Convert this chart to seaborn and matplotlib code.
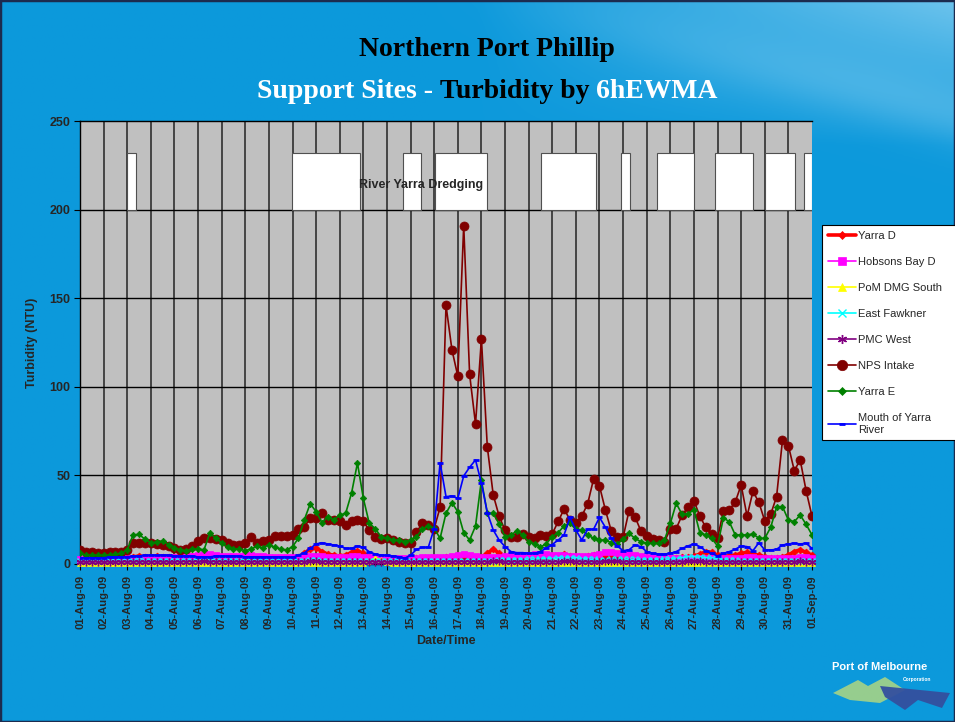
import numpy as np
import pandas as pd
import matplotlib
matplotlib.use('Agg')
import matplotlib.pyplot as plt
import seaborn as sns
from matplotlib.lines import Line2D
from matplotlib.patches import Polygon, Rectangle

# 6-hourly readings, 01-Aug-09 00:00 to 01-Sep-09 00:00 (4 per day)
start_date = '2009-08-01'
n_days = 31

yarra_d = [3, 3, 3.5, 3, 3, 3, 3.5, 3.5, 3.5, 4, 4.5, 4, 4, 4.5, 4, 4,
           4, 4, 4, 4.5, 5, 5, 4.5, 4, 4, 4, 3.5, 3.5, 3.5, 3.5, 3.5, 3.5,
           3.5, 3.5, 3.5, 3.5, 3.5, 4, 6, 8.5, 9, 7, 5.5, 5, 4.5, 5, 6.5, 7.5,
           6, 4, 3.5, 3.5, 3.5, 3, 3, 3, 3, 3.5, 3.5, 3.5, 3.5, 3.5, 4, 3.5,
           3.5, 4, 3.5, 3.5, 4, 6, 8.5, 6, 4, 3.5, 3.5, 3.5, 3.5, 3.5, 3.5, 3.5,
           4, 4.5, 5.5, 4.5, 4, 4, 4.5, 5, 4.5, 4, 4, 3.5, 3.5, 3.5, 3.5, 3.5,
           3.5, 3.5, 3.5, 3.5, 3.5, 3.5, 4, 4, 4.5, 5.5, 7, 6.5, 5, 4.5, 4.5, 5,
           6, 6.5, 5.5, 5, 4, 3.5, 3.5, 4, 5, 7, 8, 6.5, 5]

hobsons_bay_d = [3, 3, 3, 3, 3, 3, 3, 3.5, 3.5, 3.5, 3.5, 3.5, 3.5, 4, 4, 4,
                 4, 4, 4.5, 4.5, 5, 6, 5.5, 5, 4.5, 4.5, 4.5, 4.5, 5, 5, 4.5, 4.5,
                 4, 4, 4, 4, 4, 4, 4.5, 4.5, 4.5, 4.5, 4, 4, 4, 4, 4.5, 4.5,
                 4, 4, 3.5, 3.5, 3.5, 3.5, 3.5, 3.5, 3.5, 3.5, 4, 4, 4, 4, 4, 4.5,
                 5, 5.5, 5, 4.5, 4, 4, 4, 4, 4.5, 5, 5, 5, 5, 5.5, 5.5, 5.5,
                 5, 5, 5, 4.5, 4.5, 4.5, 4.5, 5, 5.5, 6.5, 6.5, 6, 5.5, 5.5, 5, 4.5,
                 4, 4, 3.5, 3.5, 3.5, 3.5, 3.5, 3.5, 3.5, 3.5, 3.5, 3.5, 3.5, 3.5, 3.5, 3.5,
                 3.5, 4, 4, 3.5, 3.5, 3.5, 3.5, 3.5, 3.5, 3.5, 4, 4, 3.5]

pom_dmg_south = [0.5, 0.5, 0.4, 0.5, 0.5, 0.6, 0.5, 0.5, 0.5, 0.5, 0.6, 0.5, 0.5, 0.5, 0.5, 0.4,
                 0.5, 0.5, 0.5, 0.5, 0.6, 0.6, 0.5, 0.5, 0.5, 0.5, 0.5, 0.5, 0.5, 0.4, 0.5, 0.5,
                 0.5, 0.5, 0.5, 0.5, 0.5, 0.5, 0.6, 0.6, 0.6, 0.5, 0.5, 0.5, 0.5, 0.5, 0.6, 0.6,
                 0.5, 1.5, 3.5, 2.5, 1, 0.5, 0.5, 0.5, 0.4, 0.4, 0.4, 0.4, 0.5, 0.5, 0.5, 0.5,
                 0.5, 0.5, 0.6, 0.5, 0.5, 0.5, 0.5, 0.4, 0.4, 0.4, 0.4, 0.4, 0.4, 0.4, 0.4, 0.4,
                 0.4, 0.4, 0.5, 0.5, 0.5, 0.5, 0.5, 0.5, 0.5, 0.5, 0.5, 0.5, 0.4, 0.4, 0.4, 0.4,
                 0.4, 0.4, 0.4, 0.4, 0.5, 0.5, 0.5, 0.5, 0.5, 0.5, 0.5, 0.5, 0.4, 0.4, 0.4, 0.4,
                 0.4, 0.4, 0.4, 0.4, 0.4, 0.4, 0.4, 0.4, 0.5, 0.5, 0.5, 0.5, 0.5]

east_fawkner = [1.5, 1.6, 1.8, 1.6, 1.5, 1.6, 1.7, 1.8, 1.8, 1.9, 2, 1.8, 1.7, 1.8, 1.9, 1.8,
                1.7, 1.7, 1.8, 1.8, 1.9, 2, 2, 1.9, 1.8, 1.8, 1.7, 1.7, 1.7, 1.8, 1.8, 1.7,
                1.6, 1.6, 1.7, 1.7, 1.7, 1.8, 1.9, 2, 2, 1.9, 1.8, 1.8, 1.8, 1.8, 1.9, 1.9,
                1.8, 1.7, 1.7, 1.6, 1.6, 1.5, 1.5, 1.5, 1.5, 1.6, 1.6, 1.7, 1.7, 1.8, 1.8, 1.8,
                1.8, 1.9, 1.9, 1.8, 1.8, 1.8, 1.9, 2, 2.2, 2.4, 2.5, 2.5, 2.6, 2.8, 3, 3,
                3, 3.2, 3.5, 3.5, 3.3, 3, 2.8, 2.6, 2.5, 2.5, 2.6, 2.8, 2.8, 2.7, 2.6, 2.5,
                2.4, 2.4, 2.5, 2.6, 2.8, 3, 3.5, 4, 4, 3.8, 3.5, 3.2, 2.8, 2.5, 2.2, 2,
                1.9, 1.8, 1.8, 1.7, 1.7, 1.7, 1.8, 1.8, 1.8, 1.9, 1.9, 1.8, 1.8]

pmc_west = [1.2, 1.2, 1.3, 1.2, 1.2, 1.2, 1.3, 1.3, 1.3, 1.3, 1.4, 1.3, 1.3, 1.3, 1.3, 1.3,
            1.3, 1.3, 1.4, 1.4, 1.4, 1.5, 1.4, 1.4, 1.3, 1.3, 1.3, 1.3, 1.3, 1.3, 1.3, 1.3,
            1.3, 1.3, 1.3, 1.3, 1.3, 1.4, 1.4, 1.5, 1.5, 1.4, 1.4, 1.4, 1.4, 1.4, 1.4, 1.4,
            1.4, 1.3, 1.3, 1.3, 1.2, 1.2, 1.2, 1.2, 1.2, 1.3, 1.3, 1.3, 1.3, 1.3, 1.3, 1.3,
            1.4, 1.4, 1.4, 1.4, 1.4, 1.4, 1.5, 1.5, 1.4, 1.4, 1.4, 1.4, 1.4, 1.4, 1.4, 1.4,
            1.4, 1.4, 1.5, 1.5, 1.4, 1.4, 1.4, 1.4, 1.4, 1.5, 1.5, 1.5, 1.4, 1.4, 1.4, 1.3,
            1.3, 1.3, 1.3, 1.3, 1.3, 1.4, 1.4, 1.5, 1.5, 1.5, 1.4, 1.4, 1.4, 1.4, 1.3, 1.3,
            1.3, 1.3, 1.3, 1.3, 1.3, 1.3, 1.4, 1.4, 1.4, 1.4, 1.5, 1.4, 1.4]

nps_intake = [8, 7, 7, 6, 6, 6.5, 6.5, 7, 8, 12, 12, 12, 12, 11.5, 11, 10,
              9, 8, 8.5, 10, 13, 14.5, 14.5, 14, 13.5, 12, 11, 11, 12, 15, 12, 13,
              13.5, 16, 16, 16, 16.5, 20, 21, 26, 26, 29, 25, 25, 24, 22, 24, 25,
              24, 19, 15.5, 14, 14.5, 13.5, 12.5, 11.7, 11.7, 18, 23, 22, 20, 32, 146, 121,
              106, 191, 107, 79, 127, 66, 39, 27, 19, 15.4, 15.4, 17, 15.4, 14.5, 16.4, 16,
              17, 24, 31, 25, 23, 27, 34, 48, 44, 30.5, 18.6, 15, 15, 30, 26.7, 18.8,
              15.8, 14, 13.5, 12.6, 19.6, 20, 27.6, 32, 35.7, 27, 20.7, 17, 14.5, 30, 30.5, 35,
              44.6, 27, 41, 34.8, 24.3, 28, 38, 70, 66.8, 52.7, 58.7, 41.4, 27]

yarra_e = [6, 5, 5, 5, 5, 5, 5.5, 6, 8, 16.4, 16.7, 14, 12, 12.3, 13, 11,
           9, 8, 7.5, 8.5, 8.5, 8, 17.5, 14.5, 12, 9.5, 8.5, 8.5, 7.5, 8.5, 10, 9,
           11, 9.4, 8.5, 7.9, 9.8, 14.5, 25, 34, 29.5, 23.3, 26.7, 24.8, 27.6, 28.6, 40, 57,
           37, 23, 20, 15.4, 14.5, 13.5, 13.5, 12.6, 13.5, 15.4, 19.6, 21.5, 20.1, 14.5, 28.6, 34.6,
           29.5, 17.7, 13.5, 21.4, 47.4, 28.6, 28.6, 22.6, 15.4, 16.3, 18.8, 16.3, 12.6, 11.3, 9.5, 11.5,
           15.4, 17.7, 21.5, 22.9, 19.6, 19.2, 16.4, 14.5, 13.5, 13.5, 12, 11.3, 13.9, 17.3, 14.5, 12.6,
           11.7, 11.7, 11.7, 13.5, 22.9, 34.2, 28, 28.4, 30.5, 17.7, 16.4, 14.5, 10.2, 26.2, 23.7, 16.4,
           16.4, 16.4, 17, 14.5, 14.5, 20.7, 32, 32.4, 24.8, 23.9, 27.6, 22.4, 16.4]

mouth_of_yarra = [3.5, 3.5, 3.5, 3.5, 3.5, 4, 4, 4, 4, 4.5, 4.5, 5, 5, 5, 5, 5,
                  4.5, 4.5, 4.5, 4.5, 4, 4, 4, 4.5, 4.5, 4.5, 4.5, 4.5, 4, 4, 4, 4,
                  4, 4, 4, 4, 3.7, 5, 6.3, 8.8, 11.3, 12, 11.3, 10.7, 10.2, 8.8, 8.8, 10.2,
                  9.4, 6.9, 5.6, 5, 5, 4.5, 4.1, 3.2, 5, 8.2, 9.4, 9.4, 20, 57.2, 38, 38.4,
                  37, 49.7, 54.6, 58.7, 45.6, 29, 19.2, 13.5, 9.8, 7, 6.4, 6.4, 6, 6, 7, 9,
                  11, 13.5, 16.4, 26.3, 19.2, 13.5, 19.6, 19.6, 26.3, 20.7, 14.5, 10.2, 7.5, 8, 10.7, 9.8,
                  7, 6, 5.6, 5.6, 6, 7, 8.8, 10.2, 11.4, 9.8, 7.4, 6, 4.5, 6, 7, 8.3,
                  10.2, 9.8, 7.5, 12, 7.9, 7.9, 8.3, 10.7, 11.3, 11.7, 11.3, 11.7, 8.8]

# dredging periods (day offsets from 01-Aug-09)
dredging_start = [2.0, 8.98, 13.68, 15.04, 19.53, 22.92, 24.45, 26.9, 29.0, 30.68]
dredging_end = [2.37, 11.86, 14.45, 17.25, 21.86, 23.3, 26.0, 28.5, 30.3, 31.0]
dredging_low = 200
dredging_high = 232

series = [
    ('Yarra D', yarra_d),
    ('Hobsons Bay D', hobsons_bay_d),
    ('PoM DMG South', pom_dmg_south),
    ('East Fawkner', east_fawkner),
    ('PMC West', pmc_west),
    ('NPS Intake', nps_intake),
    ('Yarra E', yarra_e),
    ('Mouth of Yarra River', mouth_of_yarra),
]

styles = {
    'Yarra D': dict(color='#ff0000', marker='D', markersize=3.5, linewidth=2.6, mew=0.5),
    'Hobsons Bay D': dict(color='#ff00ff', marker='s', markersize=4.5, linewidth=1.2, mew=0.5),
    'PoM DMG South': dict(color='#ffff00', marker='^', markersize=5, linewidth=1.2, mew=0.5),
    'East Fawkner': dict(color='#00ffff', marker='x', markersize=4.5, linewidth=1.2, mew=1.0),
    'PMC West': dict(color='#800080', marker=(6, 2, 0), markersize=5.5, linewidth=1.2, mew=1.0),
    'NPS Intake': dict(color='#800000', marker='o', markersize=6.5, linewidth=1.2, mew=0.5),
    'Yarra E': dict(color='#008000', marker='D', markersize=3.3, linewidth=1.2, mew=0.5),
    'Mouth of Yarra River': dict(color='#0000ff', marker='_', markersize=4, linewidth=1.2, mew=2.0),
}

day_labels = [d.strftime('%d-%b-%y') for d in pd.date_range(start_date, periods=n_days + 1, freq='D')]

rows = []
for name, values in series:
    for i, v in enumerate(values):
        rows.append((name, i / 4.0, v))
df = pd.DataFrame(rows, columns=['site', 'day', 'turbidity'])

sns.set_style('white')
plt.rcParams['font.family'] = ['Liberation Sans', 'DejaVu Sans']

W, H = 955, 722
fig = plt.figure(figsize=(W / 100, H / 100), dpi=100)


def px(x, y):
    return x / W, 1 - y / H


# blue slide background
bg = fig.add_axes([0, 0, 1, 1], zorder=-10)
gx, gy = np.meshgrid(np.linspace(0, 1, 400), np.linspace(1, 0, 300))
base = np.array([0.05, 0.60, 0.86])
light = np.array([0.55, 0.82, 0.95])
w = np.clip((gx - 0.5) * 2.0, 0, 1) * np.clip((gy - 0.80) * 5, 0, 1) * 0.75
w += 0.25 * np.exp(-((gy - (0.98 - 0.35 * (gx - 0.6))) ** 2) / 0.002) * np.clip(gx - 0.45, 0, 1) * 2
w = np.clip(w, 0, 1)
img = base[None, None, :] * (1 - w[..., None]) + light[None, None, :] * w[..., None]
bg.imshow(img, extent=[0, 1, 0, 1], aspect='auto')
bg.axis('off')
fig.add_artist(Rectangle((0, 0), 1, 1, transform=fig.transFigure, fill=False,
                         edgecolor='#1c2b4f', linewidth=2.5))

l, b = px(80, 564)
r, t = px(812, 121)
ax = fig.add_axes([l, b, r - l, t - b])
ax.set_facecolor('#c0c0c0')

for d in range(1, n_days):
    ax.axvline(d, color='#3a3a3a', linewidth=1.3, zorder=1)
for yv in [50, 100, 150, 200]:
    ax.axhline(yv, color='black', linewidth=1.0, zorder=1)

ax.bar(dredging_start, [dredging_high - dredging_low] * len(dredging_start),
       width=np.array(dredging_end) - np.array(dredging_start), bottom=dredging_low,
       align='edge', color='white', edgecolor='#505050', linewidth=0.8, zorder=2)
ax.text(14.45, 214, 'River Yarra Dredging', ha='center', va='center',
        fontsize=9, fontweight='bold', zorder=3)

handles = []
for k, (name, _) in enumerate(series):
    st = styles[name]
    sub = df[df['site'] == name]
    sns.lineplot(data=sub, x='day', y='turbidity', ax=ax, color=st['color'],
                 marker=st['marker'], markersize=st['markersize'], linewidth=st['linewidth'],
                 markeredgecolor=st['color'], markerfacecolor=st['color'], markeredgewidth=st['mew'],
                 legend=False, zorder=4 + k, clip_on=(name in ['NPS Intake', 'Yarra E', 'Mouth of Yarra River']))
    label = 'Mouth of Yarra\nRiver' if name == 'Mouth of Yarra River' else name
    handles.append(Line2D([], [], color=st['color'], marker=st['marker'], markersize=st['markersize'] + 1,
                          linewidth=st['linewidth'], markeredgecolor=st['color'],
                          markeredgewidth=st['mew'], label=label))

ax.set_xlim(0, n_days)
ax.set_ylim(0, 250)
ax.set_yticks([0, 50, 100, 150, 200, 250])
ax.set_xticks(range(n_days + 1))
ax.set_xticklabels(day_labels, rotation=90, fontsize=8, fontweight='bold')
for lab in ax.get_yticklabels():
    lab.set_fontweight('bold')
ax.tick_params(axis='y', labelsize=9, length=4, direction='out', color='black', pad=3, left=True)
ax.tick_params(axis='x', length=4, direction='out', color='black', pad=4, bottom=True)
ax.set_xlabel('Date/Time', fontsize=9, fontweight='bold', labelpad=4)
ax.set_ylabel('Turbidity (NTU)', fontsize=9, fontweight='bold', labelpad=8)
for s in ax.spines.values():
    s.set_color('black')
    s.set_linewidth(1.0)
ax.spines['right'].set_visible(False)

lx, ly = px(822, 437)
leg = fig.legend(handles=handles, loc='upper left', bbox_to_anchor=(lx, ly, 1 - lx + 0.002, 212 / H),
                 mode='expand', frameon=True, fancybox=False, edgecolor='black', framealpha=1,
                 fontsize=8, labelspacing=1.45, handlelength=2.6, handletextpad=0.15,
                 borderpad=0.5, borderaxespad=0)
leg.get_frame().set_linewidth(0.8)

# title
serif = ['Liberation Serif', 'DejaVu Serif']
tsize = 20
fig.text(*px(487, 50), 'Northern Port Phillip', ha='center', va='center',
         fontsize=tsize, fontweight='bold', family=serif, color='black')
renderer = fig.canvas.get_renderer()
pieces = [('Support Sites -', 'white'), ('Turbidity by', 'black'), ('6hEWMA', 'white')]
probe_a = fig.text(0, 0, 'x x', fontsize=tsize, fontweight='bold', family=serif)
probe_b = fig.text(0, 0, 'xx', fontsize=tsize, fontweight='bold', family=serif)
space = probe_a.get_window_extent(renderer).width - probe_b.get_window_extent(renderer).width
probe_a.remove()
probe_b.remove()
texts = [fig.text(0, px(0, 91)[1], s, color=c, ha='left', va='center', fontsize=tsize,
                  fontweight='bold', family=serif) for s, c in pieces]
widths = [tx.get_window_extent(renderer).width for tx in texts]
total = sum(widths) + space * (len(texts) - 1)
x0 = 487 - total / 2
for tx, wd in zip(texts, widths):
    tx.set_x(x0 / W)
    x0 += wd + space

# logo
fig.text(*px(880, 667), 'Port of Melbourne', ha='center', va='center', color='white',
         fontsize=8, fontweight='bold')
fig.text(*px(917, 679), 'Corporation', ha='center', va='center', color='white',
         fontsize=3.5, fontweight='bold')
green_pts = [px(833, 693), px(858, 680), px(868, 686), px(885, 677), px(905, 690), px(880, 703), px(850, 700)]
blue_pts = [px(880, 686), px(950, 693), px(942, 708), px(918, 700), px(905, 710), px(885, 697)]
fig.add_artist(Polygon(green_pts, closed=True, transform=fig.transFigure, facecolor='#9fd08a',
                       edgecolor='none', alpha=0.95))
fig.add_artist(Polygon(blue_pts, closed=True, transform=fig.transFigure, facecolor='#34509e',
                       edgecolor='none', alpha=0.95))

fig.savefig('out.png', dpi=100)
